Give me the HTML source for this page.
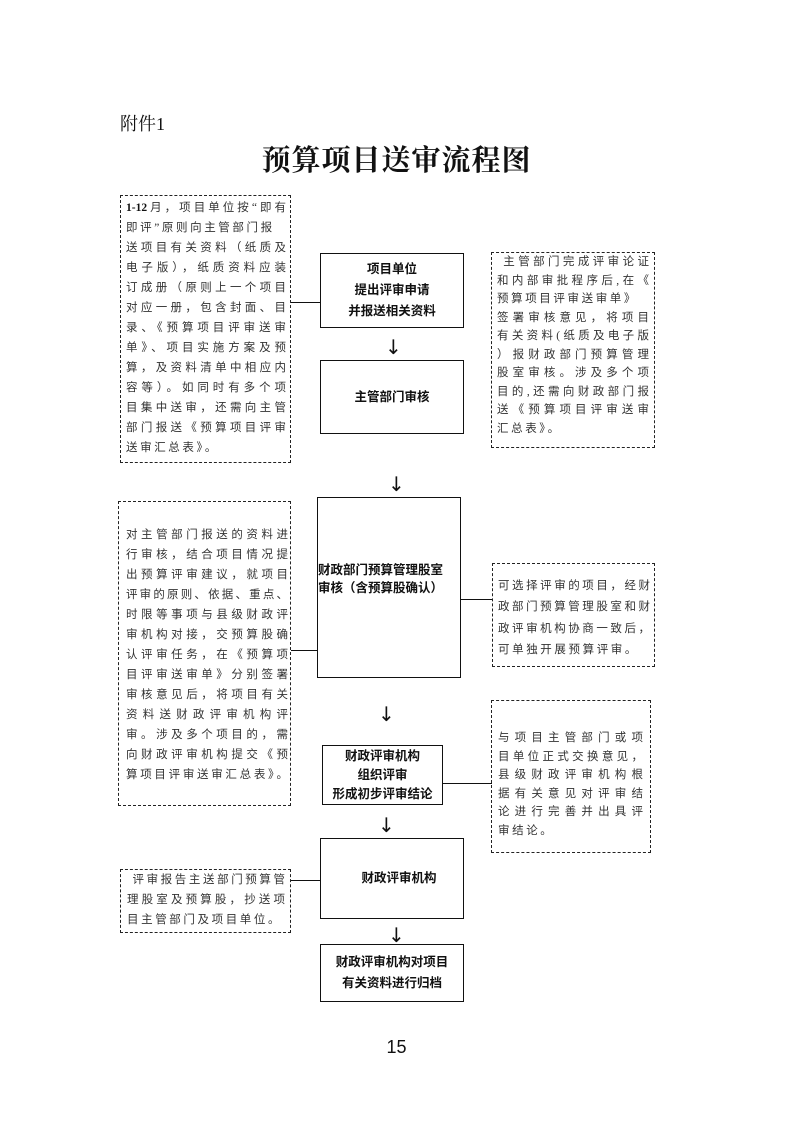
<!DOCTYPE html>
<html><head><meta charset="utf-8"><style>
body{margin:0;background:#fff}
#p{position:relative;width:793px;height:1122px;overflow:hidden;font-family:"Liberation Serif","Noto Serif CJK SC","Noto Sans CJK SC",serif;color:#111}
.a{position:absolute;box-sizing:border-box}
.d{border:1.3px dashed #222}
.s{border:1.6px solid #111;display:flex;flex-direction:column;justify-content:center;align-items:center;text-align:center;font-family:"Liberation Sans","Noto Sans CJK SC",sans-serif;font-weight:bold;font-size:12.5px;line-height:21px}
.t{position:absolute;font-size:11.5px;color:#333;font-family:"Liberation Serif","Noto Sans CJK SC",sans-serif}
.t div{text-align:justify;text-align-last:justify;white-space:nowrap;overflow:visible}
.t div.l{text-align-last:left;letter-spacing:2.6px}
.h{position:absolute;height:0;border-top:1.3px solid #111}
.ar{position:absolute;font-size:20px;font-family:"DejaVu Sans",sans-serif;line-height:1}
</style></head><body><div id="p">
<div class="a" style="left:120px;top:110px;font-size:18px">附件1</div>
<div class="a" style="left:0;width:793px;top:138px;text-align:center;font-size:29px;font-weight:bold;letter-spacing:1px">预算项目送审流程图</div>

<div class="a d" style="left:120px;top:195px;width:171px;height:268px"></div>
<div class="t" style="left:126px;top:198px;width:160px;line-height:20px">
<div><b style="color:#111">1-12</b>月，项目单位按“即有</div><div class="l">即评”原则向主管部门报</div><div>送项目有关资料（纸质及</div><div>电子版），纸质资料应装</div><div>订成册（原则上一个项目</div><div>对应一册，包含封面、目</div><div>录、《预算项目评审送审</div><div>单》、项目实施方案及预</div><div>算，及资料清单中相应内</div><div>容等）。如同时有多个项</div><div>目集中送审，还需向主管</div><div>部门报送《预算项目评审</div><div class="l">送审汇总表》。</div></div>
<div class="h" style="left:291px;top:302px;width:30px"></div>

<div class="a s" style="left:320px;top:253px;width:144px;height:75px">项目单位<br>提出评审申请<br>并报送相关资料</div>
<div class="ar" style="left:385px;top:337px">↓</div>
<div class="a s" style="left:320px;top:360px;width:144px;height:74px">主管部门审核</div>

<div class="a d" style="left:491px;top:252px;width:164px;height:196px"></div>
<div class="t" style="left:497px;top:253px;width:152px;line-height:18.5px">
<div>&nbsp;主管部门完成评审论证</div><div>和内部审批程序后,在《</div><div class="l">预算项目评审送审单》</div><div>签署审核意见，将项目</div><div>有关资料(纸质及电子版</div><div>）报财政部门预算管理</div><div>股室审核。涉及多个项</div><div>目的,还需向财政部门报</div><div>送《预算项目评审送审</div><div class="l">汇总表》。</div></div>

<div class="ar" style="left:388px;top:474px">↓</div>

<div class="a d" style="left:118px;top:501px;width:173px;height:305px"></div>
<div class="t" style="left:126px;top:525px;width:162px;line-height:20px">
<div>对主管部门报送的资料进</div><div>行审核，结合项目情况提</div><div>出预算评审建议，就项目</div><div>评审的原则、依据、重点、</div><div>时限等事项与县级财政评</div><div>审机构对接，交预算股确</div><div>认评审任务，在《预算项</div><div>目评审送审单》分别签署</div><div>审核意见后，将项目有关</div><div>资料送财政评审机构评</div><div>审。涉及多个项目的，需</div><div>向财政评审机构提交《预</div><div>算项目评审送审汇总表》。</div></div>
<div class="h" style="left:291px;top:650px;width:27px"></div>

<div class="a" style="left:317px;top:497px;width:144px;height:181px;border:1.6px solid #111"></div>
<div class="a" style="left:318px;top:561px;font-weight:bold;font-size:12.5px;line-height:18px;font-family:'Liberation Sans','Noto Sans CJK SC',sans-serif">财政部门预算管理股室<br>审核（含预算股确认）</div>
<div class="h" style="left:461px;top:599px;width:31px"></div>

<div class="a d" style="left:492px;top:563px;width:163px;height:104px"></div>
<div class="t" style="left:498px;top:576px;width:152px;line-height:21.3px">
<div>可选择评审的项目，经财</div><div>政部门预算管理股室和财</div><div>政评审机构协商一致后，</div><div class="l">可单独开展预算评审。</div></div>

<div class="ar" style="left:378px;top:704px">↓</div>

<div class="a s" style="left:322px;top:745px;width:121px;height:60px;line-height:19px">财政评审机构<br>组织评审<br>形成初步评审结论</div>
<div class="h" style="left:443px;top:783px;width:49px"></div>

<div class="a d" style="left:491px;top:700px;width:160px;height:153px"></div>
<div class="t" style="left:498px;top:729px;width:145px;line-height:18.5px">
<div>与项目主管部门或项</div><div>目单位正式交换意见，</div><div>县级财政评审机构根</div><div>据有关意见对评审结</div><div>论进行完善并出具评</div><div class="l">审结论。</div></div>

<div class="ar" style="left:378px;top:815px">↓</div>
<div class="a s" style="left:320px;top:838px;width:144px;height:81px;padding-left:14px">财政评审机构</div>

<div class="a d" style="left:120px;top:869px;width:171px;height:64px"></div>
<div class="t" style="left:127px;top:870px;width:158px;line-height:20px">
<div>&nbsp;评审报告主送部门预算管</div><div>理股室及预算股，抄送项</div><div class="l">目主管部门及项目单位。</div></div>
<div class="h" style="left:291px;top:880px;width:30px"></div>

<div class="ar" style="left:388px;top:925px">↓</div>
<div class="a s" style="left:320px;top:944px;width:144px;height:58px">财政评审机构对项目<br>有关资料进行归档</div>

<div class="a" style="left:0;width:793px;top:1037px;text-align:center;font-family:'Liberation Sans',sans-serif;font-size:18px">15</div>
</div></body></html>
